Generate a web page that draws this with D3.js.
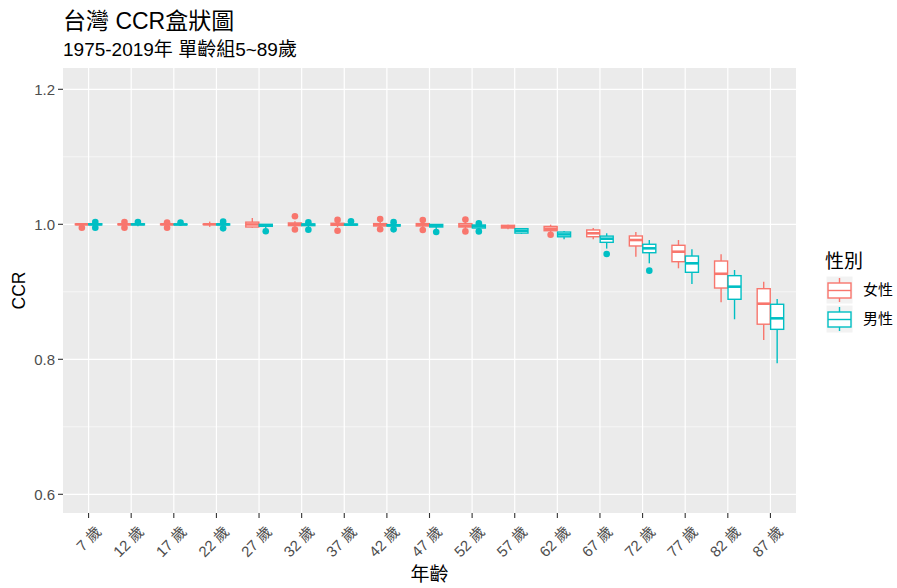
<!DOCTYPE html>
<html>
<head>
<meta charset="utf-8">
<script src="https://cdn.jsdelivr.net/npm/d3@7"></script>
<style>
  html, body { margin: 0; padding: 0; background: #fff; }
  svg { display: block; font-family: "Liberation Sans", Arial, "Noto Sans CJK TC", sans-serif; }
</style>
</head>
<body>
<svg id="chart" width="897" height="588"></svg>
<script>
// Age groups (single-year ages shown every 5 years)
const ages = ["7 歲", "12 歲", "17 歲", "22 歲", "27 歲", "32 歲", "37 歲", "42 歲", "47 歲",
              "52 歲", "57 歲", "62 歲", "67 歲", "72 歲", "77 歲", "82 歲", "87 歲"];
const sexes = ["女性", "男性"];
const sexColors = ["#F8766D", "#00BFC4"];
const yTicks = [0.6, 0.8, 1.0, 1.2];
const yMinor = [0.7, 0.9, 1.1];

// Female box statistics: lower whisker, Q1, median, Q3, upper whisker, outliers
const femaleLow  = [0.9972, 0.9980, 0.9980, 0.9962, 0.9950, 0.9955, 0.9960, 0.9960, 0.9950, 0.9940, 0.9925, 0.9886, 0.9778, 0.9520, 0.9348, 0.8844, 0.8286];
const femaleQ1   = [0.9995, 0.9994, 0.9994, 0.9997, 0.9960, 0.9980, 0.9985, 0.9975, 0.9975, 0.9960, 0.9945, 0.9905, 0.9816, 0.9679, 0.9446, 0.9056, 0.8520];
const femaleMed  = [1.0000, 1.0000, 1.0000, 1.0000, 0.9998, 1.0000, 1.0000, 0.9995, 0.9995, 0.9980, 0.9965, 0.9935, 0.9867, 0.9767, 0.9594, 0.9267, 0.8824];
const femaleQ3   = [1.0005, 1.0006, 1.0005, 1.0003, 1.0032, 1.0020, 1.0015, 1.0010, 1.0010, 1.0010, 0.9985, 0.9968, 0.9916, 0.9827, 0.9689, 0.9456, 0.9046];
const femaleHigh = [1.0008, 1.0018, 1.0015, 1.0040, 1.0093, 1.0045, 1.0035, 1.0040, 1.0035, 1.0040, 0.9995, 0.9995, 0.9945, 0.9886, 0.9767, 0.9557, 0.9150];
const femaleOut  = [[0.9950], [1.0034, 0.9950], [1.0025, 0.9950], [], [], [1.0120, 0.9922], [1.0065, 0.9905],
                    [1.0078, 0.9926], [1.0064, 0.9915], [1.0070, 0.9895], [], [0.9846], [], [], [], [], []];

// Male box statistics
const maleLow  = [0.9980, 0.9970, 0.9985, 0.9965, 0.9935, 0.9960, 0.9980, 0.9960, 0.9930, 0.9935, 0.9856, 0.9780, 0.9640, 0.9422, 0.9116, 0.8593, 0.7941];
const maleQ1   = [0.9992, 0.9992, 0.9993, 0.9990, 0.9970, 0.9980, 0.9990, 0.9975, 0.9960, 0.9945, 0.9870, 0.9815, 0.9733, 0.9579, 0.9289, 0.8889, 0.8444];
const maleMed  = [1.0000, 1.0000, 0.9998, 1.0000, 0.9985, 0.9995, 0.9995, 0.9985, 0.9980, 0.9970, 0.9905, 0.9850, 0.9787, 0.9644, 0.9422, 0.9076, 0.8607];
const maleQ3   = [1.0008, 1.0007, 1.0003, 1.0005, 1.0000, 1.0005, 1.0002, 0.9995, 0.9998, 0.9990, 0.9935, 0.9885, 0.9825, 0.9704, 0.9530, 0.9239, 0.8815];
const maleHigh = [1.0018, 1.0018, 1.0008, 1.0018, 1.0005, 1.0015, 1.0015, 1.0010, 1.0005, 1.0005, 0.9945, 0.9900, 0.9867, 0.9767, 0.9630, 0.9323, 0.8893];
const maleOut  = [[1.0034, 0.9950], [1.0034], [1.0025], [1.0039, 0.9940], [0.9896], [1.0030, 0.9920], [1.0045],
                  [1.0032, 0.9925], [0.9885], [1.0015, 0.9895], [], [], [0.9560], [0.9313], [], [], []];

const stats = [
  { low: femaleLow, q1: femaleQ1, med: femaleMed, q3: femaleQ3, high: femaleHigh, out: femaleOut },
  { low: maleLow,   q1: maleQ1,   med: maleMed,   q3: maleQ3,   high: maleHigh,   out: maleOut }
];

const svg = d3.select("#chart");
const panel = { left: 63, right: 796, top: 68, bottom: 513 };

// Scales
const x = d3.scaleBand()
  .domain(ages)
  .range([panel.left, panel.right])
  .paddingOuter(0.1)
  .paddingInner(0);
const y = d3.scaleLinear().domain([0.6, 1.2]).range([494.3, 89.3]);
const dodge = d3.scaleBand().domain(sexes).range([0, x.bandwidth()]).paddingInner(0.03).paddingOuter(0.6);

const xc = a => x(a) + x.bandwidth() / 2;

// Panel background and grid
svg.append("rect")
  .attr("x", panel.left).attr("y", panel.top)
  .attr("width", panel.right - panel.left).attr("height", panel.bottom - panel.top)
  .attr("fill", "#EBEBEB");

const grid = svg.append("g");
grid.selectAll(".minor").data(yMinor).join("line")
  .attr("x1", panel.left).attr("x2", panel.right)
  .attr("y1", d => y(d)).attr("y2", d => y(d))
  .attr("stroke", "#fff").attr("stroke-width", 0.6);
grid.selectAll(".majorY").data(yTicks).join("line")
  .attr("x1", panel.left).attr("x2", panel.right)
  .attr("y1", d => y(d)).attr("y2", d => y(d))
  .attr("stroke", "#fff").attr("stroke-width", 1.2);
grid.selectAll(".majorX").data(ages).join("line")
  .attr("x1", d => xc(d)).attr("x2", d => xc(d))
  .attr("y1", panel.top).attr("y2", panel.bottom)
  .attr("stroke", "#fff").attr("stroke-width", 1.2);

// Boxplots
sexes.forEach((sex, si) => {
  const s = stats[si];
  const col = sexColors[si];
  const g = svg.append("g");
  ages.forEach((age, i) => {
    const x0 = x(age) + dodge(sex);
    const w = dodge.bandwidth();
    const cx = x0 + w / 2;
    // whiskers
    g.append("line").attr("x1", cx).attr("x2", cx)
      .attr("y1", y(s.high[i])).attr("y2", y(s.q3[i]))
      .attr("stroke", col).attr("stroke-width", 1.4);
    g.append("line").attr("x1", cx).attr("x2", cx)
      .attr("y1", y(s.q1[i])).attr("y2", y(s.low[i]))
      .attr("stroke", col).attr("stroke-width", 1.4);
    // box
    g.append("rect")
      .attr("x", x0).attr("y", y(s.q3[i]))
      .attr("width", w).attr("height", Math.max(0, y(s.q1[i]) - y(s.q3[i])))
      .attr("fill", "#fff").attr("stroke", col).attr("stroke-width", 1.4);
    // median
    g.append("line").attr("x1", x0).attr("x2", x0 + w)
      .attr("y1", y(s.med[i])).attr("y2", y(s.med[i]))
      .attr("stroke", col).attr("stroke-width", 2.6);
    // outliers
    g.selectAll(null).data(s.out[i]).join("circle")
      .attr("cx", cx).attr("cy", d => y(d)).attr("r", 3.3)
      .attr("fill", col);
  });
});

// Y axis
const yAxis = svg.append("g");
yAxis.selectAll("line").data(yTicks).join("line")
  .attr("x1", panel.left - 5).attr("x2", panel.left)
  .attr("y1", d => y(d)).attr("y2", d => y(d))
  .attr("stroke", "#333").attr("stroke-width", 1.1);
yAxis.selectAll("text").data(yTicks).join("text")
  .attr("x", panel.left - 8).attr("y", d => y(d))
  .attr("dy", "0.36em").attr("text-anchor", "end")
  .attr("font-size", 15).attr("fill", "#4D4D4D")
  .text(d => d3.format(".1f")(d));

// X axis
const xAxis = svg.append("g");
xAxis.selectAll("line").data(ages).join("line")
  .attr("x1", d => xc(d)).attr("x2", d => xc(d))
  .attr("y1", panel.bottom).attr("y2", panel.bottom + 5)
  .attr("stroke", "#333").attr("stroke-width", 1.1);
xAxis.selectAll("text").data(ages).join("text")
  .attr("transform", d => `translate(${xc(d) + 10},${529}) rotate(-45)`)
  .attr("dy", "0.35em").attr("text-anchor", "end")
  .attr("font-size", 15).attr("fill", "#4D4D4D")
  .text(d => d);

// Axis titles
svg.append("text")
  .attr("x", (panel.left + panel.right) / 2).attr("y", 581)
  .attr("text-anchor", "middle").attr("font-size", 19).attr("fill", "#000")
  .text("年齡");
svg.append("text")
  .attr("transform", `translate(25,${(panel.top + panel.bottom) / 2}) rotate(-90)`)
  .attr("text-anchor", "middle").attr("font-size", 17.5).attr("fill", "#000")
  .text("CCR");

// Titles
svg.append("text")
  .attr("x", 63).attr("y", 29)
  .attr("font-size", 23).attr("fill", "#000")
  .text("台灣 CCR盒狀圖");
svg.append("text")
  .attr("x", 63).attr("y", 56)
  .attr("font-size", 19).attr("fill", "#000")
  .text("1975-2019年 單齡組5~89歲");

// Legend
const legend = svg.append("g");
legend.append("text")
  .attr("x", 825).attr("y", 268)
  .attr("font-size", 19).attr("fill", "#000")
  .text("性別");
sexes.forEach((sex, si) => {
  const top = 276 + si * 29;
  const col = sexColors[si];
  const k = legend.append("g");
  k.append("rect").attr("x", 826).attr("y", top).attr("width", 27).attr("height", 28)
    .attr("fill", "#F2F2F2").attr("stroke", "#fff");
  k.append("line").attr("x1", 839.5).attr("x2", 839.5).attr("y1", top + 2).attr("y2", top + 26)
    .attr("stroke", col).attr("stroke-width", 1.4);
  k.append("rect").attr("x", 828).attr("y", top + 7).attr("width", 23).attr("height", 15)
    .attr("fill", "#fff").attr("stroke", col).attr("stroke-width", 1.4);
  k.append("line").attr("x1", 828).attr("x2", 851).attr("y1", top + 14.5).attr("y2", top + 14.5)
    .attr("stroke", col).attr("stroke-width", 1.4);
  legend.append("text")
    .attr("x", 863).attr("y", top + 14).attr("dy", "0.36em")
    .attr("font-size", 15).attr("fill", "#000")
    .text(sex);
});
</script>
</body>
</html>
